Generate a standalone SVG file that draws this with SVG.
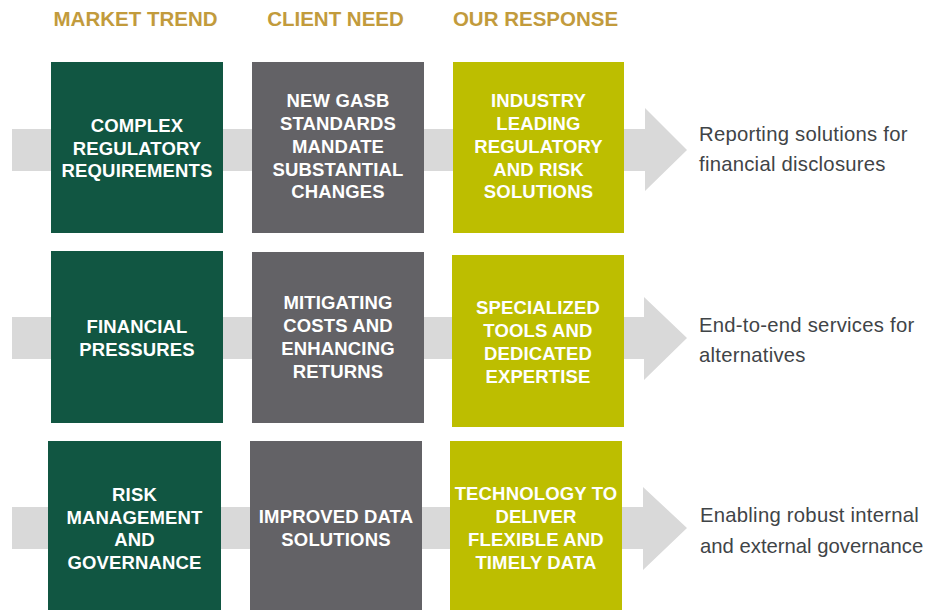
<svg xmlns="http://www.w3.org/2000/svg" width="927" height="610" viewBox="0 0 927 610">
<style>
.hdr{font-family:"Liberation Sans",Arial,sans-serif;font-weight:bold;font-size:20.5px;fill:#C29B3C;text-anchor:middle}
.bt{font-family:"Liberation Sans",Arial,sans-serif;font-weight:bold;font-size:18.5px;fill:#FFFFFF;text-anchor:middle;letter-spacing:0.15px}
.rt{font-family:"Liberation Sans",Arial,sans-serif;font-size:20.3px;fill:#3F4447;letter-spacing:0.25px}
.tight{letter-spacing:0px}
.green{fill:#115642}
.gray{fill:#636266}
.lime{fill:#BDBE00}
.band{fill:#D9D9D9}
</style>
<rect width="927" height="610" fill="#FFFFFF"/>
<g id="headers">
<text class="hdr" x="135.5" y="26">MARKET TREND</text>
<text class="hdr" x="335.5" y="26">CLIENT NEED</text>
<text class="hdr" x="535.5" y="26">OUR RESPONSE</text>
</g>
<g id="connectors">
<polygon class="band" points="12,129 645,129 645,108 687,150 645,191 645,171 12,171"/>
<polygon class="band" points="12,317 644,317 644,297 687,338 644,380 644,359 12,359"/>
<polygon class="band" points="12,507 643,507 643,487 687,528 643,570 643,549 12,549"/>
</g>
<g id="row1-trend">
<rect class="green" x="51" y="62" width="172" height="171"/>
<text class="bt" x="137" y="132">COMPLEX</text>
<text class="bt" x="137" y="155">REGULATORY</text>
<text class="bt" x="137" y="177">REQUIREMENTS</text>
</g>
<g id="row1-need">
<rect class="gray" x="252" y="62" width="172" height="171"/>
<text class="bt" x="338" y="107">NEW GASB</text>
<text class="bt" x="338" y="130">STANDARDS</text>
<text class="bt" x="338" y="153">MANDATE</text>
<text class="bt" x="338" y="175.5">SUBSTANTIAL</text>
<text class="bt" x="338" y="198">CHANGES</text>
</g>
<g id="row1-response">
<rect class="lime" x="453" y="62" width="171" height="171"/>
<text class="bt" x="538.5" y="107">INDUSTRY</text>
<text class="bt" x="538.5" y="130">LEADING</text>
<text class="bt" x="538.5" y="153">REGULATORY</text>
<text class="bt" x="538.5" y="175.5">AND RISK</text>
<text class="bt" x="538.5" y="198">SOLUTIONS</text>
</g>
<g id="row1-result">
<text class="rt" x="699" y="141">Reporting solutions for</text>
<text class="rt" x="699" y="171">financial disclosures</text>
</g>
<g id="row2-trend">
<rect class="green" x="51" y="251" width="172" height="172"/>
<text class="bt" x="137" y="333">FINANCIAL</text>
<text class="bt" x="137" y="356">PRESSURES</text>
</g>
<g id="row2-need">
<rect class="gray" x="252" y="252" width="172" height="171"/>
<text class="bt" x="338" y="309">MITIGATING</text>
<text class="bt" x="338" y="332">COSTS AND</text>
<text class="bt" x="338" y="355">ENHANCING</text>
<text class="bt" x="338" y="378">RETURNS</text>
</g>
<g id="row2-response">
<rect class="lime" x="452" y="255" width="172" height="172"/>
<text class="bt" x="538" y="314">SPECIALIZED</text>
<text class="bt" x="538" y="337">TOOLS AND</text>
<text class="bt" x="538" y="360">DEDICATED</text>
<text class="bt" x="538" y="383">EXPERTISE</text>
</g>
<g id="row2-result">
<text class="rt" x="699" y="332">End-to-end services for</text>
<text class="rt" x="699" y="362">alternatives</text>
</g>
<g id="row3-trend">
<rect class="green" x="48" y="441" width="173" height="169"/>
<text class="bt" x="134.5" y="501">RISK</text>
<text class="bt" x="134.5" y="523.5">MANAGEMENT</text>
<text class="bt" x="134.5" y="546">AND</text>
<text class="bt" x="134.5" y="569">GOVERNANCE</text>
</g>
<g id="row3-need">
<rect class="gray" x="250" y="441" width="172" height="169"/>
<text class="bt" x="336" y="523">IMPROVED DATA</text>
<text class="bt" x="336" y="546">SOLUTIONS</text>
</g>
<g id="row3-response">
<rect class="lime" x="450" y="441" width="172" height="169"/>
<text class="bt" x="536" y="500">TECHNOLOGY TO</text>
<text class="bt" x="536" y="523">DELIVER</text>
<text class="bt" x="536" y="546">FLEXIBLE AND</text>
<text class="bt" x="536" y="569">TIMELY DATA</text>
</g>
<g id="row3-result">
<text class="rt" x="700" y="522">Enabling robust internal</text>
<text class="rt tight" x="700" y="553">and external governance</text>
</g>
</svg>
